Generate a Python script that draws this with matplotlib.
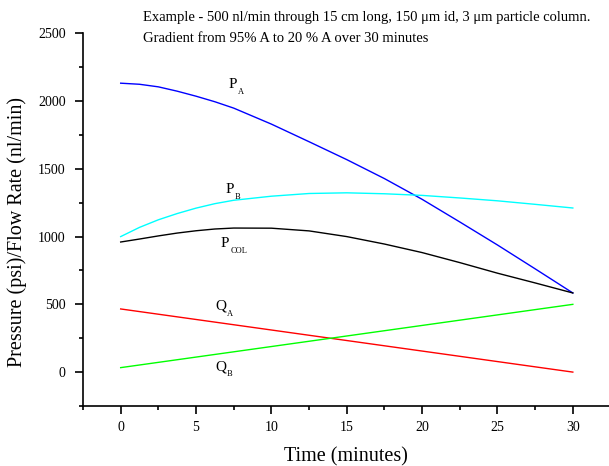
import matplotlib
matplotlib.use('Agg')
from matplotlib import pyplot as plt
from matplotlib.ticker import MultipleLocator

# time in minutes
t = [0, 1.25, 2.5, 3.75, 5, 6.25, 7.5, 10, 12.5, 15, 17.5, 20, 22.5, 25, 27.5, 30]

# pressures (psi)
p_a = [2132, 2124, 2105, 2073, 2036, 1995, 1948, 1830, 1700, 1568, 1428, 1275, 1108, 938, 762, 584]
p_b = [1000, 1068, 1124, 1170, 1210, 1243, 1268, 1298, 1318, 1323, 1316, 1304, 1285, 1264, 1238, 1211]
p_col = [960, 982, 1005, 1026, 1043, 1056, 1063, 1062, 1042, 1000, 945, 882, 808, 730, 658, 584]

# flow rates (nl/min)
q_t = [0, 30]
q_a = [466, 0]
q_b = [33, 500]

# curve labels: (main letter, subscript, x, y)
labels = [('P', 'A', 7.17, 2126),
          ('P', 'B', 6.95, 1345),
          ('P', 'COL', 6.65, 947),
          ('Q', 'A', 6.3, 487),
          ('Q', 'B', 6.3, 39)]

plt.rcParams['font.family'] = ['Liberation Serif', 'DejaVu Serif']

fig = plt.figure(figsize=(6.09, 4.66), dpi=100)
ax = fig.add_axes([0.1363, 0.1288, 0.8637, 0.7997])

ax.plot(t, p_a, color='#0000ff', linewidth=1.0)
ax.plot(t, p_b, color='#00ffff', linewidth=1.0)
ax.plot(t, p_col, color='black', linewidth=1.0)
ax.plot(q_t, q_a, color='#ff0000', linewidth=1.0)
ax.plot(q_t, q_b, color='#00ff00', linewidth=1.0)

ax.set_xlim(-2.5, 32.4)
ax.set_ylim(-250, 2500)
ax.xaxis.set_major_locator(MultipleLocator(5))
ax.xaxis.set_minor_locator(MultipleLocator(2.5))
ax.yaxis.set_major_locator(MultipleLocator(500))
ax.yaxis.set_minor_locator(MultipleLocator(250))

for s in ['top', 'right']:
    ax.spines[s].set_visible(False)
for s in ['left', 'bottom']:
    ax.spines[s].set_linewidth(1.2)

ax.tick_params(which='major', direction='out', length=5.5, width=1.2, labelsize=10)
ax.tick_params(which='minor', direction='out', length=2.9, width=1.2)
ax.tick_params(axis='x', which='major', pad=5)
ax.tick_params(axis='y', which='major', pad=7)

ax.set_xlabel('Time (minutes)', fontsize=14.5, labelpad=10)
ax.set_ylabel('Pressure (psi)/Flow Rate (nl/min)', fontsize=14.5)
ax.yaxis.set_label_coords(-0.107, 0.468)

for main, sub, x, y in labels:
    dx = 8 if main == 'Q' else 6.8
    ax.annotate(main, (x, y), fontsize=11, ha='left', va='center')
    ax.annotate(sub, (x, y), xytext=(dx, -5.5), textcoords='offset points',
                fontsize=6, ha='left', va='center')

fig.text(143 / 609, 1 - 18 / 466,
         'Example - 500 nl/min through 15 cm long, 150 \u03bcm id, 3 \u03bcm particle column.',
         fontsize=10.5, ha='left', va='center')
fig.text(143 / 609, 1 - 38 / 466,
         'Gradient from 95% A to 20 % A over 30 minutes',
         fontsize=10.5, ha='left', va='center')

fig.savefig('out.png', dpi=100)
